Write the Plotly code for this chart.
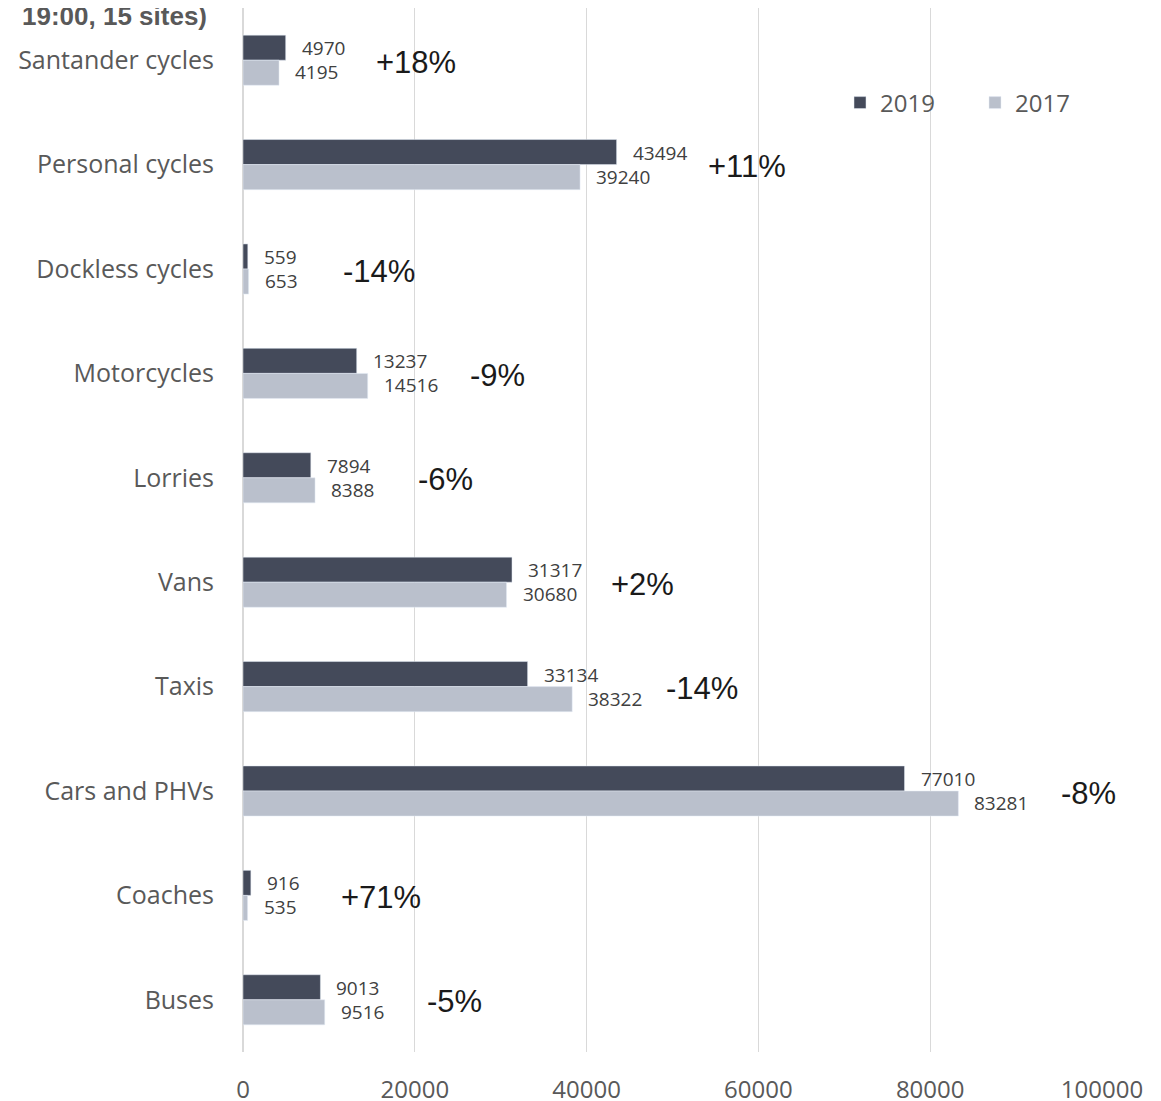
import plotly.graph_objects as go

# vehicle counts (15 sites, to 19:00)
categories = ["Santander cycles", "Personal cycles", "Dockless cycles", "Motorcycles",
              "Lorries", "Vans", "Taxis", "Cars and PHVs", "Coaches", "Buses"]
counts_2019 = [4970, 43494, 559, 13237, 7894, 31317, 33134, 77010, 916, 9013]
counts_2017 = [4195, 39240, 653, 14516, 8388, 30680, 38322, 83281, 535, 9516]
changes = ["+18%", "+11%", "-14%", "-9%", "-6%", "+2%", "-14%", "-8%", "+71%", "-5%"]
x_ticks = [0, 20000, 40000, 60000, 80000, 100000]
x_ticktext = ["0", "20000", "40000", "60000", "80000", "100000"]

dark = "#444A5A"
light = "#BAC0CC"
grey_txt = "#595959"
font_main = "'Open Sans', 'Noto Sans', sans-serif"
font_arial = "'Liberation Sans', Arial, sans-serif"

fig = go.Figure()
fig.add_trace(go.Bar(y=categories, x=counts_2019, name="2019", orientation="h",
                     marker=dict(color=dark)))
fig.add_trace(go.Bar(y=categories, x=counts_2017, name="2017", orientation="h",
                     marker=dict(color=light)))

# data labels next to each bar + percentage change
for cat, v19, v17, ch in zip(categories, counts_2019, counts_2017, changes):
    fig.add_annotation(x=v19, y=cat, text=str(v19), showarrow=False,
                       xanchor="left", yanchor="middle", xshift=14, yshift=12,
                       font=dict(size=19, color="#404040"))
    fig.add_annotation(x=v17, y=cat, text=str(v17), showarrow=False,
                       xanchor="left", yanchor="middle", xshift=14, yshift=-12,
                       font=dict(size=19, color="#404040"))
    fig.add_annotation(x=max(v19, v17), y=cat, text=ch, showarrow=False,
                       xanchor="center", yanchor="middle", xshift=130, yshift=-2,
                       font=dict(size=31, color="#1a1a1a", family=font_arial))

# tail of the (cut-off) chart title at the top
fig.add_annotation(xref="paper", yref="paper", x=-0.26, y=1.0, yshift=-25,
                   text="<b>19:00, 15 sites)</b>", showarrow=False,
                   xanchor="left", yanchor="bottom",
                   font=dict(size=26, color=grey_txt, family=font_arial))

# page body has an 8px margin, so the figure is sized/offset to compensate
fig.update_layout(
    width=1153, height=1093,
    margin=dict(l=235, r=59, t=0, b=49),
    plot_bgcolor="white", paper_bgcolor="white",
    barmode="group", bargap=0.52, bargroupgap=0,
    font=dict(family=font_main, color=grey_txt),
    xaxis=dict(range=[0, 100000], tickvals=x_ticks, ticktext=x_ticktext,
               showgrid=True, gridcolor="#D9D9D9", gridwidth=1,
               zeroline=True, zerolinecolor="#D9D9D9", showline=False,
               tickfont=dict(size=24, color=grey_txt), ticks="",
               ticklabelstandoff=21, automargin=False),
    yaxis=dict(autorange="reversed", showgrid=False, ticks="", showline=False,
               tickfont=dict(size=25, color=grey_txt), ticklabelstandoff=28,
               automargin=False),
    legend=dict(orientation="h", x=0.695, y=0.909, xanchor="left", yanchor="middle",
                font=dict(size=24, color=grey_txt), entrywidth=90,
                bgcolor="rgba(0,0,0,0)"),
)

fig.write_html("out.html")
